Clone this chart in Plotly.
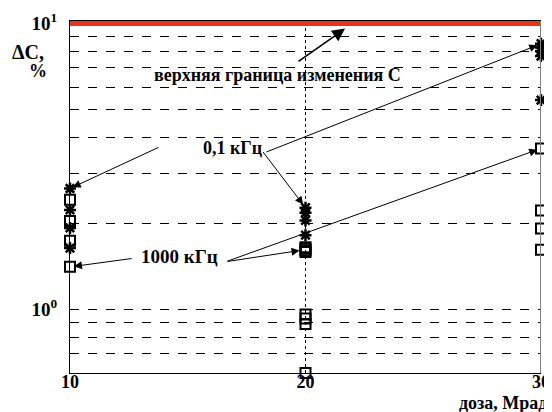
import math
import plotly.graph_objects as go

# ---- data ----
dose_ticks = [10, 20, 30]
dose_ticktext = ["10", "20", "30"]

# 0,1 kHz (stars)
x_01k = [10, 10, 10, 10, 20, 20, 20, 20, 30, 30, 30, 30, 30]
dc_01k = [2.65, 2.23, 1.93, 1.64, 2.27, 2.18, 2.05, 1.82, 8.5, 8.25, 8.0, 7.7, 5.4]

# 1000 kHz (squares)
x_1000k = [10, 10, 10, 10, 20, 20, 20, 20, 20, 20, 20, 20, 30, 30, 30, 30]
dc_1000k = [2.42, 2.04, 1.74, 1.41, 1.65, 1.63, 1.61, 1.59, 0.96, 0.93, 0.89, 0.6, 3.66, 2.22, 1.92, 1.62]

# upper limit of C change
x_limit = [10, 30]
dc_limit = [10, 10]

grid_vals = [0.6, 0.7, 0.8, 0.9, 1, 2, 3, 4, 5, 6, 7, 8, 9, 10]
ytick_text = {1: "10<sup>0</sup>", 10: "10<sup>1</sup>"}

FONT = "Liberation Serif"

fig = go.Figure()

fig.add_trace(go.Scatter(
    x=x_1000k, y=dc_1000k, mode="markers", cliponaxis=False,
    marker=dict(symbol="square-open", size=10, color="black", line=dict(width=2, color="black")),
    showlegend=False))

fig.add_trace(go.Scatter(
    x=x_01k, y=dc_01k, mode="markers", cliponaxis=False,
    marker=dict(symbol="asterisk-open", size=10, color="black", line=dict(width=2.5, color="black")),
    showlegend=False))

fig.add_trace(go.Scatter(
    x=x_limit, y=dc_limit, mode="lines", cliponaxis=False,
    line=dict(color="#e03a14", width=5), showlegend=False))

y_lo = math.log10(0.6)
y_hi = y_lo + 352 / 286.0

fig.update_layout(
    width=552, height=412,
    margin=dict(l=62, r=19, t=13, b=47),
    paper_bgcolor="white", plot_bgcolor="white",
    font=dict(family=FONT, color="black", size=16),
    xaxis=dict(range=[10, 30], tickvals=dose_ticks, ticktext=dose_ticktext,
               showgrid=False, zeroline=False, showline=True, linecolor="black",
               linewidth=1, mirror=True, ticks="", automargin=False,
               ticklabelstandoff=-8,
               tickfont=dict(family=FONT, size=18, weight="bold", color="black")),
    yaxis=dict(type="log", range=[y_lo, y_hi], tickvals=grid_vals,
               ticktext=[ytick_text.get(v, "") for v in grid_vals],
               showgrid=True, gridcolor="black", gridwidth=1, griddash="dash",
               zeroline=False, showline=True, linecolor="black", linewidth=1, ticks="",
               automargin=False, ticklabelstandoff=8,
               tickfont=dict(family=FONT, size=19, weight="bold", color="black")),
)

# vertical dotted line at dose 20 and grey right border
fig.add_shape(type="line", xref="x", yref="paper", x0=20, x1=20, y0=0, y1=1,
              line=dict(color="black", width=1, dash="dot"), layer="below")
fig.add_shape(type="line", xref="x", yref="paper", x0=30, x1=30, y0=0, y1=1,
              line=dict(color="#808080", width=2), layer="above")

bold = dict(family=FONT, size=18, weight="bold", color="black")

# texts
fig.add_annotation(x=-0.089, y=0.912, xref="paper", yref="paper", text="ΔC,",
                   xanchor="center", yanchor="middle", showarrow=False,
                   font=dict(family=FONT, size=20, weight="bold"))
fig.add_annotation(x=-0.068, y=0.858, xref="paper", yref="paper", text="%",
                   xanchor="center", yanchor="middle", showarrow=False,
                   font=dict(family=FONT, size=18, weight="bold"))
fig.add_annotation(x=1.016, y=-0.086, xref="paper", yref="paper", text="доза, Мрад",
                   xanchor="right", yanchor="middle", showarrow=False,
                   font=dict(family=FONT, size=18, weight="bold"))

L = math.log10
fig.add_annotation(x=18.79, y=L(6.63), text="верхняя граница изменения С",
                   xanchor="center", yanchor="middle", showarrow=False, font=bold)
fig.add_annotation(x=16.92, y=L(3.66), text="0,1 кГц",
                   xanchor="center", yanchor="middle", showarrow=False, font=bold)
fig.add_annotation(x=14.67, y=L(1.53), text="1000 кГц",
                   xanchor="center", yanchor="middle", showarrow=False,
                   font=dict(family=FONT, size=19, weight="bold", color="black"))

arrows = [
    # (head_x, head_y, tail_x, tail_y, width, standoff)
    (21.68, 9.6, 19.64, 7.31, 1.6, 0),
    (10, 2.65, 13.82, 3.71, 1, 3),
    (20, 2.27, 18.15, 3.6, 1, 4),
    (30, 8.5, 18.28, 3.54, 1, 4),
    (10, 1.41, 12.68, 1.51, 1, 4),
    (20, 1.62, 16.62, 1.47, 1, 6),
    (30, 3.66, 16.62, 1.47, 1, 4),
]
for hx, hy, tx, ty, w, so in arrows:
    fig.add_annotation(x=hx, y=L(hy), ax=tx, ay=L(ty), axref="x", ayref="y",
                       text="", showarrow=True, arrowhead=2, arrowsize=1.6,
                       arrowwidth=w, arrowcolor="black", standoff=so)

fig.write_html("out.html")
